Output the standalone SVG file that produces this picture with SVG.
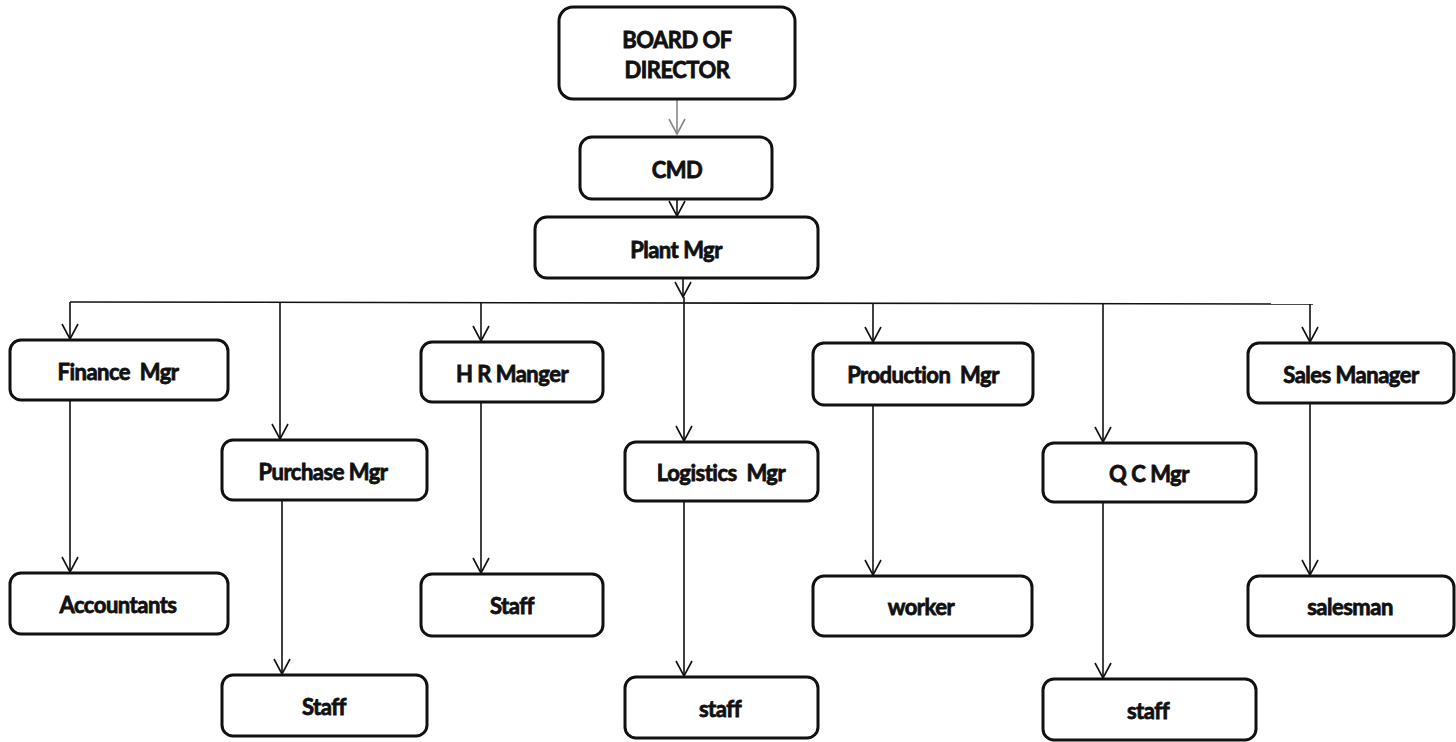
<svg xmlns="http://www.w3.org/2000/svg" width="1456" height="742" viewBox="0 0 1456 742">
<defs>
<marker id="ah" markerWidth="20" markerHeight="20" refX="16" refY="10" orient="auto" markerUnits="userSpaceOnUse" viewBox="0 0 20 20">
<path d="M1,2 L16,10 L1,18" fill="none" stroke="#111" stroke-width="1.6"/>
</marker>
<marker id="ahg" markerWidth="20" markerHeight="20" refX="16" refY="10" orient="auto" markerUnits="userSpaceOnUse" viewBox="0 0 20 20">
<path d="M1,2 L16,10 L1,18" fill="none" stroke="#888" stroke-width="1.6"/>
</marker>
</defs>
<style>
.box{fill:#fff;stroke:#111;stroke-width:3}
.t{font-family:Lato,"Liberation Sans",sans-serif;font-weight:bold;font-size:22px;fill:#111;stroke:#111;stroke-width:0.8;text-anchor:middle;dominant-baseline:central;letter-spacing:-0.5px;white-space:pre}
.c{fill:none;stroke:#111;stroke-width:1.6}
.down{marker-end:url(#ah)}
</style>
<rect width="1456" height="742" fill="#fff"/>
<g id="connectors">
<line class="c" x1="677" y1="99" x2="677" y2="134" style="stroke:#888" marker-end="url(#ahg)"/>
<line class="c down" x1="677" y1="199" x2="677" y2="216"/>
<line class="c down" x1="683" y1="278" x2="683" y2="297"/>
<polyline class="c" points="70,302 1313,304"/>
<line class="c down" x1="70" y1="302" x2="70" y2="339"/>
<line class="c down" x1="280" y1="302" x2="280" y2="439"/>
<line class="c down" x1="481" y1="303" x2="481" y2="341"/>
<line class="c down" x1="684" y1="297" x2="684" y2="441"/>
<line class="c down" x1="873" y1="303" x2="873" y2="342"/>
<line class="c down" x1="1103" y1="304" x2="1103" y2="442"/>
<line class="c down" x1="1310" y1="304" x2="1310" y2="342"/>
<line class="c down" x1="70" y1="400" x2="70" y2="572"/>
<line class="c down" x1="282" y1="500" x2="282" y2="674"/>
<line class="c down" x1="481" y1="402" x2="481" y2="573"/>
<line class="c down" x1="684" y1="501" x2="684" y2="676"/>
<line class="c down" x1="873" y1="405" x2="873" y2="575"/>
<line class="c down" x1="1103" y1="502" x2="1103" y2="678"/>
<line class="c down" x1="1310" y1="403" x2="1310" y2="575"/>
</g>
<g id="board"><rect class="box" x="559" y="7" width="236" height="92" rx="14"/><text class="t" x="677" y="39">BOARD OF</text><text class="t" x="677" y="69">DIRECTOR</text></g>
<g id="cmd"><rect class="box" x="580" y="137" width="192" height="62" rx="12"/><text class="t" x="677" y="169">CMD</text></g>
<g id="plant"><rect class="box" x="535" y="217" width="283" height="61" rx="12"/><text class="t" x="676" y="249">Plant Mgr</text></g>
<g id="finance"><rect class="box" x="10" y="340" width="218" height="60" rx="11"/><text class="t" x="118" y="371">Finance  Mgr</text></g>
<g id="purchase"><rect class="box" x="222" y="440" width="205" height="60" rx="11"/><text class="t" x="323" y="471">Purchase Mgr</text></g>
<g id="hr"><rect class="box" x="421" y="342" width="182" height="60" rx="11"/><text class="t" x="512" y="373">H R Manger</text></g>
<g id="logistics"><rect class="box" x="625" y="442" width="193" height="59" rx="11"/><text class="t" x="721" y="472">Logistics  Mgr</text></g>
<g id="production"><rect class="box" x="813" y="343" width="220" height="62" rx="11"/><text class="t" x="923" y="374">Production  Mgr</text></g>
<g id="qc"><rect class="box" x="1043" y="443" width="213" height="59" rx="11"/><text class="t" x="1149" y="473">Q C Mgr</text></g>
<g id="sales"><rect class="box" x="1248" y="343" width="206" height="60" rx="11"/><text class="t" x="1351" y="374">Sales Manager</text></g>
<g id="accountants"><rect class="box" x="10" y="573" width="218" height="61" rx="11"/><text class="t" x="118" y="604">Accountants</text></g>
<g id="staff1"><rect class="box" x="222" y="675" width="205" height="61" rx="11"/><text class="t" x="324" y="706">Staff</text></g>
<g id="staff2"><rect class="box" x="421" y="574" width="182" height="62" rx="11"/><text class="t" x="512" y="605">Staff</text></g>
<g id="staff3"><rect class="box" x="625" y="677" width="193" height="61" rx="11"/><text class="t" x="720" y="708">staff</text></g>
<g id="worker"><rect class="box" x="813" y="576" width="219" height="60" rx="11"/><text class="t" x="921" y="606">worker</text></g>
<g id="staff4"><rect class="box" x="1043" y="679" width="213" height="61" rx="11"/><text class="t" x="1148" y="710">staff</text></g>
<g id="salesman"><rect class="box" x="1248" y="576" width="206" height="60" rx="11"/><text class="t" x="1350" y="606">salesman</text></g>
</svg>
